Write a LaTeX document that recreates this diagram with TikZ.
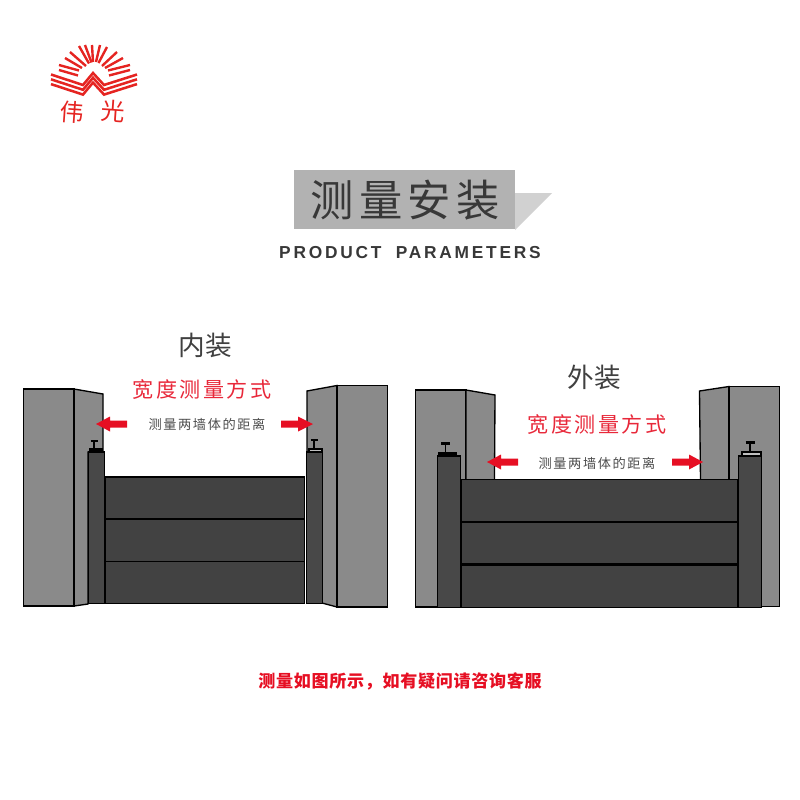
\documentclass[tikz,border=0pt]{standalone}
\usepackage{fontspec}
\setmainfont{Liberation Sans}
\newfontfamily\cjk{Noto Sans CJK SC}
\newfontfamily\cjkwide[LetterSpace=12]{Noto Sans CJK SC}
\newfontfamily\cjkbold[LetterSpace=4]{Noto Sans CJK SC}
\newfontfamily\latinwide[LetterSpace=16]{Liberation Sans}
\usetikzlibrary{positioning}
\definecolor{wallgray}{HTML}{8A8A8A}
\definecolor{postgray}{HTML}{484848}
\definecolor{panelgray}{HTML}{424242}
\definecolor{markred}{HTML}{E60F23}
\definecolor{textred}{HTML}{E8283A}
\definecolor{logored}{HTML}{E52421}
\begin{document}
\begin{tikzpicture}[x=0.75pt,y=-0.75pt,
  wallface/.style={draw=black,fill=wallgray,line width=1pt},
  postbar/.style={draw=black,fill=postgray,line width=1pt},
  panelbar/.style={draw=black,fill=panelgray,line width=1pt},
  seamline/.style={draw=black,line width=1.3pt},
  handle/.style={draw=black,line width=1.2pt},
  ray/.style={draw=logored,line width=1.8pt},
  stripe/.style={draw=logored,line width=1.9pt,line join=miter},
  headtext/.style={text=black!75,font=\cjk\fontsize{20}{24}\selectfont},
  redtext/.style={text=textred,font=\cjkwide\fontsize{15.8}{18}\selectfont},
  smalltext/.style={text=black!70,font=\cjkwide\fontsize{9.9}{12}\selectfont},
  logotext/.style={text=logored,font=\cjk\fontsize{18}{22}\selectfont}]
\useasboundingbox (0,0) rectangle (800,800);
% logo rays
\foreach \xa/\ya/\xb/\yb in {59/70/78/75.5,59/65/79/70.5,65/58/82/68,70/52/86/66,79/46/89/63.5,85/45/91.5/62.5,92/45/93/62,100/45/96/62,107/47/98.5/63,117/52/102/66,123/58/105/68,130/65/108/70.5,130/70/109/75.5} {
  \draw[ray] (\xa,\ya) -- (\xb,\yb);
}
% logo stripes
\foreach \dy in {0,4.8,9.6} {
  \draw[stripe] (51,74.5+\dy) -- (83,85+\dy) -- (93,73+\dy) -- (104,85+\dy) -- (137,74.5+\dy);
}
\node[logotext,rotate=-4] (logoa) at (72,112) {伟};
\node[logotext,rotate=-4] (logob) at (113,111) {光};
% title plate
\fill[black!18] (515,193) -- (552,193) -- (515,230) -- cycle;
\fill[black!30] (294,170) rectangle (515,229);
\node[text=black!78,font=\cjkwide\fontsize{32.5}{36}\selectfont] (title) at (405,200) {测量安装};
\node[text=black!78,font=\latinwide\bfseries\fontsize{13}{14}\selectfont] (subtitle) at (410,253) {PRODUCT\hspace{5pt} PARAMETERS};
% inner mount, walls
\draw[wallface] (74,389) -- (103,394) -- (103,452) -- (88,452) -- (88,604) -- (74,606) -- cycle;
\draw[wallface] (23.5,389) rectangle (74,606);
\draw[wallface] (307,391) -- (337,385.5) -- (337,607) -- (322,603) -- (322,452) -- (307,452) -- cycle;
\draw[wallface] (337,385.5) rectangle (387.5,607);
% inner mount, posts and panels
\draw[postbar] (88.5,452) rectangle (104.5,603.5);
\draw[postbar] (306.5,452) rectangle (322.5,603.5);
\draw[panelbar] (105,477) rectangle (304.5,603.5);
\draw[seamline] (105,519) -- (304.5,519);
\draw[seamline] (105,561.5) -- (304.5,561.5);
% inner mount, handles
\foreach \xa/\xb/\xm/\ya/\yb/\tone in {89.5/102.5/94/441/449/black,309/322/314/440/449/black!25} {
  \draw[handle,fill=\tone] (\xa,\yb) rectangle (\xb,\yb+3);
  \draw[handle] (\xm,\ya) -- (\xm,\yb);
  \draw[handle,line width=1.8pt] (\xm-3.5,\ya) -- (\xm+3.5,\ya);
}
% outer mount, walls
\draw[wallface] (415.5,390) rectangle (466,607);
\draw[wallface] (466,390) -- (495,395) -- (494.5,480) -- (466,480) -- cycle;
\draw[wallface] (699.5,391) -- (729,386.5) -- (729,480) -- (700.5,480) -- cycle;
\draw[wallface] (729,386.5) rectangle (779.5,606.5);
% outer mount, posts and panels
\draw[postbar] (437.5,456) rectangle (460.5,607.5);
\draw[postbar] (738.5,456) rectangle (761.5,607.5);
\draw[panelbar] (461.5,479.5) rectangle (738,607.5);
\draw[seamline,line width=1.6pt] (461.5,522) -- (738,522);
\draw[seamline,line width=1.6pt] (461.5,564.5) -- (738,564.5);
% outer mount, handles
\foreach \xa/\xb/\xm/\ya/\yb/\tone in {439/456.5/445.5/443.5/452.5/black,742/761/750/442.5/452/black!25} {
  \draw[handle,fill=\tone] (\xa,\yb) rectangle (\xb,\yb+3.5);
  \draw[handle] (\xm,\ya) -- (\xm,\yb);
  \draw[handle,line width=1.8pt] (\xm-4.5,\ya) -- (\xm+4.5,\ya);
}
% red width arrows
\foreach \xt/\xh/\xe/\yy in {96/110/127/424,313/298/281/424,487/501/518/462,703/689/672/462} {
  \fill[markred] (\xt,\yy) -- (\xh,\yy-7.5) -- (\xh,\yy-3.5) -- (\xe,\yy-3.5) -- (\xe,\yy+3.5) -- (\xh,\yy+3.5) -- (\xh,\yy+7.5) -- cycle;
}
% labels
\node[headtext] (innerhead) at (205,345) {内装};
\node[headtext] (outerhead) at (594,377) {外装};
\node[redtext] (innerred) at (202,389.5) {宽度测量方式};
\node[redtext] (outerred) at (597,424.5) {宽度测量方式};
\node[smalltext] (innerdist) at (207,424) {测量两墙体的距离};
\node[smalltext] (outerdist) at (597,463) {测量两墙体的距离};
\node[text=markred,font=\cjkbold\bfseries\fontsize{12.8}{15}\selectfont] (note) at (400,681.5) {测量如图所示，如有疑问请咨询客服};
\end{tikzpicture}
\end{document}
